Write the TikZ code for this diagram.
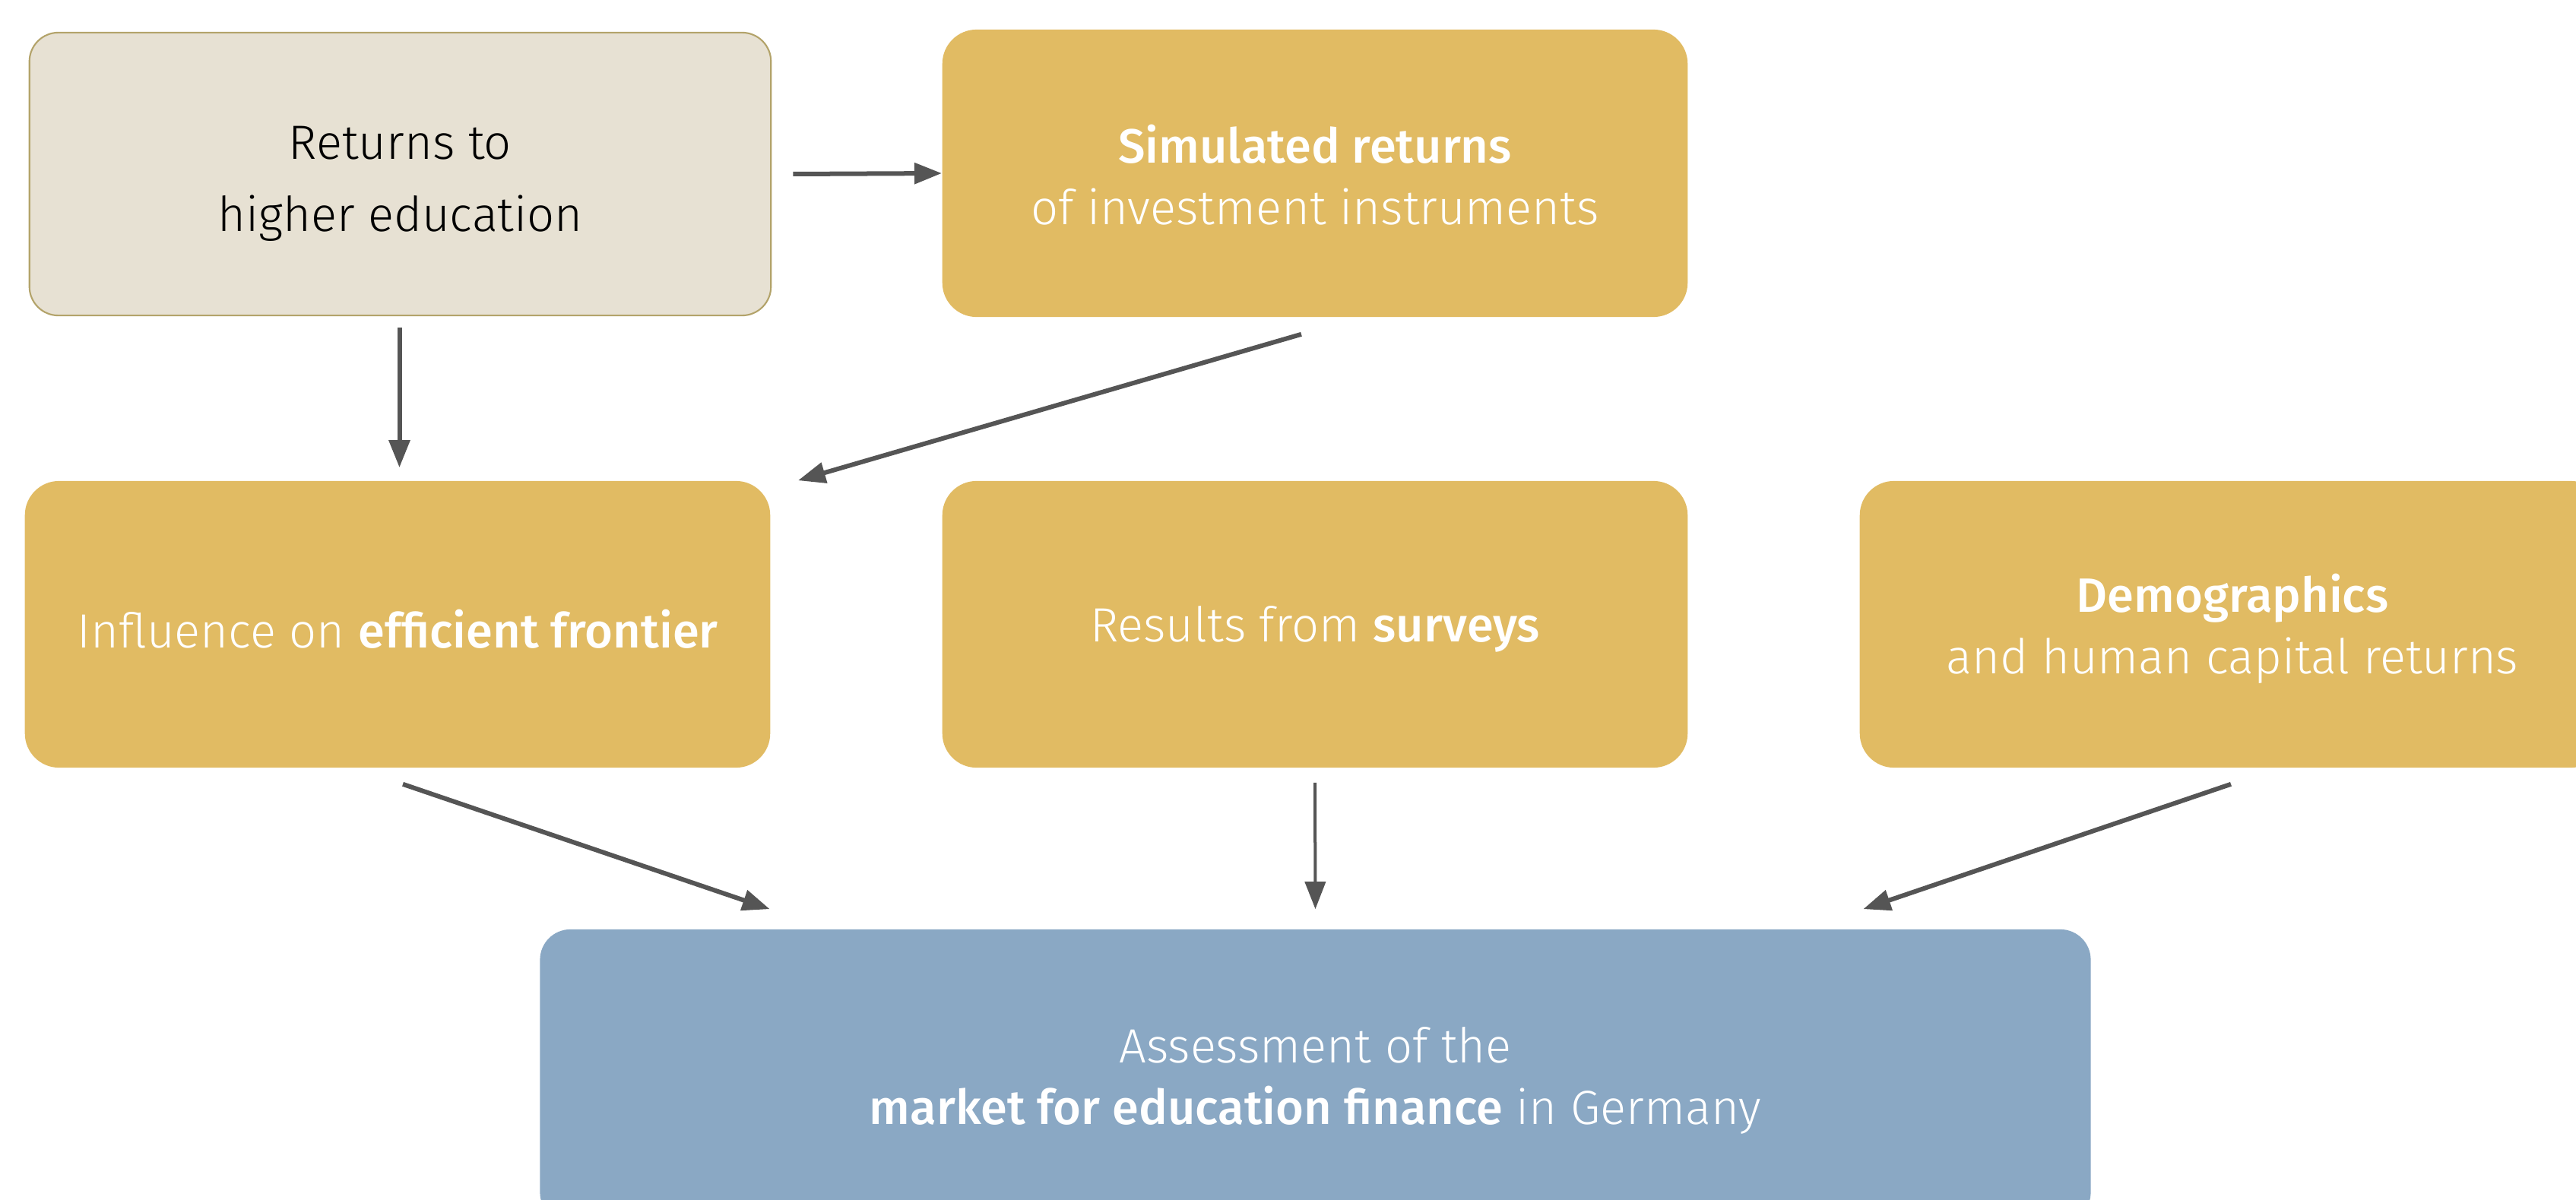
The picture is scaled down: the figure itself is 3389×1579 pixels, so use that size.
\documentclass[tikz,border=0pt]{standalone}
\usepackage{fontspec}
\setmainfont{Fira Sans}[UprightFont={* Light}, BoldFont={* Medium}]
\usetikzlibrary{arrows.meta,calc}
\definecolor{boxgold}{HTML}{E1BB63}
\definecolor{boxbeige}{HTML}{E7E1D3}
\definecolor{beigeline}{HTML}{B3A36A}
\definecolor{boxblue}{HTML}{8AA8C4}
\definecolor{arrowgray}{HTML}{555555}

\begin{document}
\begin{tikzpicture}[x=0.01cm,y=-0.01cm,
  card/.style={rounded corners=0.45cm, minimum width=9.8cm, minimum height=3.77cm,
    inner sep=0pt},
  goldcard/.style={card, fill=boxgold},
  caption/.style={align=center, inner sep=0pt, text=white,
    font=\fontsize{18}{23}\selectfont},
  flow/.style={draw=arrowgray, line width=0.06cm, -{Triangle[length=0.36cm,width=0.27cm]}},
]
\useasboundingbox (0,0) rectangle (3389,1579);
\clip (0,0) rectangle (3389,1579);

% top row
\node[card, fill=boxbeige, draw=beigeline, line width=0.6pt, minimum width=9.75cm,
  minimum height=3.72cm, rounded corners=0.38cm] (ret) at (526.5,229) {};
\node[caption, text=black, font=\fontsize{18}{27}\selectfont] (ret-t)
  at ($(ret.center)+(0,13)$) {Returns to\\higher education};
\node[goldcard, minimum height=3.78cm] (sim) at (1730,228) {};
\node[caption] (sim-t) at ($(sim.center)+(0,2)$)
  {\textbf{Simulated returns}\\of investment instruments};

% middle row
\node[goldcard] (eff) at (523,821.5) {};
\node[caption] (eff-t) at ($(eff.center)+(0,6)$) {Influence on \textbf{efficient frontier}};
\node[goldcard] (sur) at (1730,821.5) {};
\node[caption] (sur-t) at ($(sur.center)+(0,6)$) {Results from \textbf{surveys}};
\node[goldcard] (dem) at (2937,821.5) {};
\node[caption] (dem-t) at ($(dem.center)+(0,6)$) {\textbf{Demographics}\\and human capital returns};

% bottom
\node[card, fill=boxblue, minimum width=20.39cm, minimum height=3.86cm,
  rounded corners=0.4cm] (assess) at (1730.5,1416) {};
\node[caption] (assess-t) at ($(assess.center)+(0,6)$)
  {Assessment of the\\\textbf{market for education finance} in Germany};

% connectors
\draw[flow] ($(ret.east)+(28,0)$) -- (sim.west);
\draw[flow] ($(ret.south)+(-1,15)$) -- ($(ret.south |- eff.north)+(-1,-17)$);
\draw[flow] ($(sim.south)+(-18,22)$) -- ($(eff.north east)+(36,0)$);
\draw[flow] ($(eff.south)+(7,21)$) -- ($(assess.north west)+(303,-26)$);
\draw[flow, line width=0.04cm] ($(sur.south)+(0,19)$) -- ($(assess.north)+(0,-26)$);
\draw[flow] ($(dem.south)+(-2,21)$) -- ($(assess.north east)+(-300,-26)$);
\end{tikzpicture}
\end{document}
